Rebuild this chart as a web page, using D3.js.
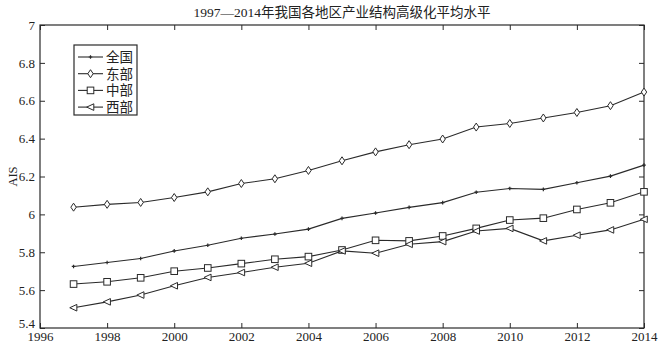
<!DOCTYPE html>
<html><head><meta charset="utf-8">
<script src="https://cdn.jsdelivr.net/npm/d3@7"></script>
<style>
html,body{margin:0;padding:0;background:#fff;}
svg{display:block;}
text{font-family:"Liberation Serif","Noto Sans CJK SC",serif;fill:#222;}
</style></head>
<body><svg id="chart" width="662" height="344"></svg>
<script>
// Years and regional AIS values (industrial structure upgrading index)
const years = [1997,1998,1999,2000,2001,2002,2003,2004,2005,2006,2007,2008,2009,2010,2011,2012,2013,2014];
const national = [5.725,5.746,5.767,5.807,5.837,5.874,5.896,5.922,5.979,6.007,6.037,6.062,6.117,6.137,6.132,6.167,6.202,6.260];
const eastern  = [6.038,6.053,6.063,6.089,6.119,6.163,6.188,6.232,6.283,6.330,6.368,6.398,6.461,6.480,6.509,6.538,6.574,6.646];
const central  = [5.632,5.644,5.665,5.700,5.717,5.740,5.763,5.777,5.812,5.863,5.860,5.886,5.926,5.970,5.980,6.026,6.061,6.119];
const western  = [5.507,5.538,5.574,5.623,5.667,5.693,5.721,5.742,5.807,5.795,5.842,5.856,5.912,5.926,5.860,5.890,5.918,5.974];
const seriesNames = ["全国","东部","中部","西部"];
const xTicks = [1996,1998,2000,2002,2004,2006,2008,2010,2012,2014];
const yTicks = [5.4,5.6,5.8,6,6.2,6.4,6.6,6.8,7];
const title = "1997—2014年我国各地区产业结构高级化平均水平";
const yLabel = "AIS";

const series = [
  {name: seriesNames[0], values: national, marker: "plus"},
  {name: seriesNames[1], values: eastern,  marker: "diamond"},
  {name: seriesNames[2], values: central,  marker: "square"},
  {name: seriesNames[3], values: western,  marker: "triangleLeft"}
];

const svg = d3.select("#chart");
const m = {left: 40, right: 18, top: 25, bottom: 16};
const W = 662, H = 344;
const x = d3.scaleLinear().domain([1996, 2014]).range([m.left, W - m.right]);
const y = d3.scaleLinear().domain([5.4, 7]).range([H - m.bottom, m.top]);
const ink = "#2a2a2a";

// Plot frame
svg.append("rect").attr("x", x(1996)).attr("y", y(7))
  .attr("width", x(2014) - x(1996)).attr("height", y(5.4) - y(7))
  .attr("fill", "#fff").attr("stroke", ink).attr("stroke-width", 1.2);

// Axes with inward ticks on all four sides
const tl = 5;
const axB = svg.append("g").attr("transform", `translate(0,${y(5.4)})`)
  .call(d3.axisBottom(x).tickValues(xTicks).tickFormat(d3.format("d")).tickSize(-tl).tickPadding(3.5));
const axT = svg.append("g").attr("transform", `translate(0,${y(7)})`)
  .call(d3.axisTop(x).tickValues(xTicks).tickFormat("").tickSize(-tl));
const axL = svg.append("g").attr("transform", `translate(${x(1996)},0)`)
  .call(d3.axisLeft(y).tickValues(yTicks).tickFormat(d => d3.format("")(+d.toFixed(1))).tickSize(-tl).tickPadding(5));
const axR = svg.append("g").attr("transform", `translate(${x(2014)},0)`)
  .call(d3.axisRight(y).tickValues(yTicks).tickFormat("").tickSize(-tl));
[axB, axT, axL, axR].forEach(g => {
  g.select(".domain").remove();
  g.selectAll(".tick line").attr("stroke", ink);
  g.selectAll("text").attr("font-size", 13).attr("fill", "#222")
    .attr("font-family", "Liberation Serif, serif");
});
// Lift the lowest y label so it clears the first year label
axL.selectAll(".tick").filter(d => d === 5.4).select("text").attr("dy", "-0.05em");

// Marker shapes
function drawMarker(g, type, cx, cy) {
  const s = 3.3;
  if (type === "plus") {
    g.append("path").attr("d", `M${cx-1.8},${cy}H${cx+1.8}M${cx},${cy-1.8}V${cy+1.8}`)
      .attr("stroke", ink).attr("stroke-width", 1.2).attr("fill", "none");
  } else if (type === "diamond") {
    g.append("path").attr("d", `M${cx},${cy-s-0.7}L${cx+s-0.6},${cy}L${cx},${cy+s+0.7}L${cx-s+0.6},${cy}Z`)
      .attr("stroke", ink).attr("stroke-width", 1).attr("fill", "#fff");
  } else if (type === "square") {
    g.append("rect").attr("x", cx - s).attr("y", cy - s).attr("width", 2*s).attr("height", 2*s)
      .attr("stroke", ink).attr("stroke-width", 1).attr("fill", "#fff");
  } else if (type === "triangleLeft") {
    g.append("path").attr("d", `M${cx-s-0.5},${cy}L${cx+s},${cy-s}L${cx+s},${cy+s}Z`)
      .attr("stroke", ink).attr("stroke-width", 1).attr("fill", "#fff");
  }
}

const line = d3.line().x(d => x(d[0])).y(d => y(d[1]));
series.forEach(sr => {
  const pts = years.map((yr, i) => [yr, sr.values[i]]);
  const g = svg.append("g");
  g.append("path").datum(pts).attr("d", line)
    .attr("fill", "none").attr("stroke", ink).attr("stroke-width", 1.1);
  pts.forEach(p => drawMarker(g, sr.marker, x(p[0]), y(p[1])));
});

// Title
svg.append("text").attr("x", (x(1996) + x(2014)) / 2).attr("y", 17)
  .attr("text-anchor", "middle").attr("font-size", 13.5).text(title);

// Y axis label
svg.append("text").attr("transform", `translate(17,${y(6.2)}) rotate(-90)`)
  .attr("text-anchor", "middle").attr("font-size", 12.5).text(yLabel);

// Legend
const lg = svg.append("g");
lg.append("rect").attr("x", 74).attr("y", 45).attr("width", 63).attr("height", 70)
  .attr("fill", "#fff").attr("stroke", ink).attr("stroke-width", 1.2);
series.forEach((sr, i) => {
  const ly = 57 + i * 16.7;
  lg.append("line").attr("x1", 78).attr("x2", 103).attr("y1", ly).attr("y2", ly)
    .attr("stroke", ink).attr("stroke-width", 1.1);
  drawMarker(lg, sr.marker, 90.5, ly);
  lg.append("text").attr("x", 106).attr("y", ly + 5).attr("font-size", 13.5).text(sr.name);
});
</script></body></html>
